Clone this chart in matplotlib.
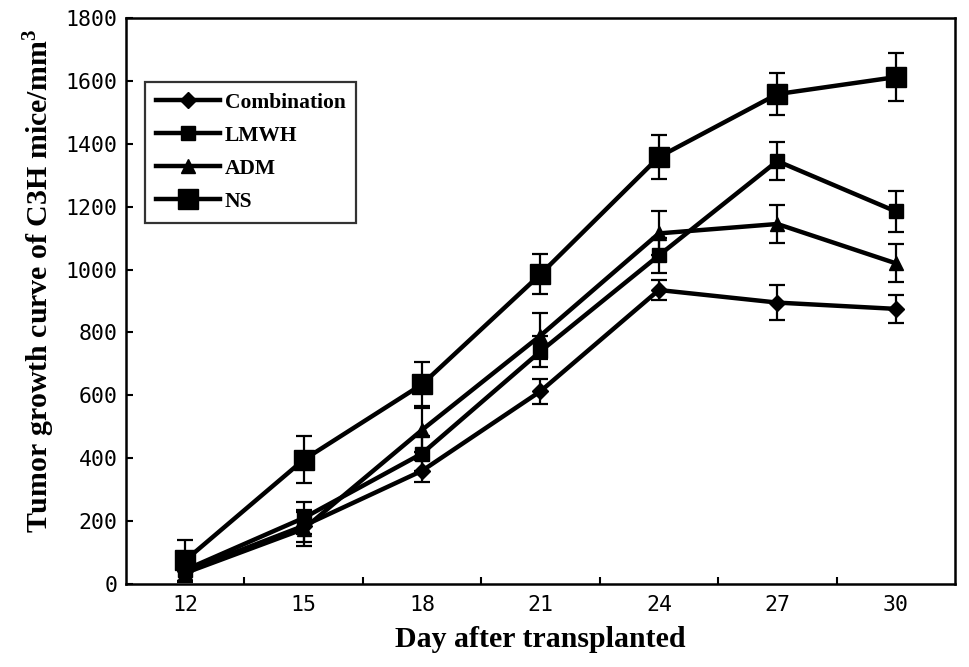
import numpy as np
import matplotlib
matplotlib.use('Agg')
import matplotlib.pyplot as plt

# Tumour volumes (mm^3)
days = [12, 15, 18, 21, 24, 27, 30]
combination = [40, 185, 360, 613, 935, 895, 875]
combination_err = [30, 50, 35, 40, 32, 55, 45]
lmwh = [45, 210, 415, 740, 1045, 1345, 1185]
lmwh_err = [35, 50, 55, 50, 55, 60, 65]
adm = [35, 175, 490, 790, 1115, 1145, 1020]
adm_err = [30, 55, 70, 73, 70, 60, 60]
ns = [75, 395, 635, 985, 1358, 1558, 1612]
ns_err = [65, 75, 70, 64, 70, 68, 76]

y_ticks = list(range(0, 1801, 200))

plt.rcParams['mathtext.fontset'] = 'custom'
plt.rcParams['mathtext.bf'] = 'Liberation Serif:bold'
plt.rcParams['mathtext.rm'] = 'Liberation Serif:bold'

fig = plt.figure(figsize=(9.69, 6.67), dpi=100)
ax = fig.add_axes([0.130, 0.1244, 0.8555, 0.8486])

pos = np.arange(len(days))
series = [
    ('Combination', combination, combination_err, 'D', 8),
    ('LMWH', lmwh, lmwh_err, 's', 9.5),
    ('ADM', adm, adm_err, '^', 10),
    ('NS', ns, ns_err, 's', 14),
]
for name, vals, errs, mk, ms in series:
    ax.errorbar(pos, vals, yerr=errs, fmt='none', ecolor='black',
                elinewidth=1.6, capsize=6, capthick=1.6)
    ax.plot(pos, vals, color='black', lw=3.2, marker=mk, markersize=ms,
            markerfacecolor='black', markeredgecolor='black', label=name)

ax.set_xlim(-0.5, len(days) - 0.5)
ax.set_ylim(0, 1800)
ax.set_xticks(pos)
ax.set_xticklabels([str(d) for d in days])
ax.set_xticks(pos[:-1] + 0.5, minor=True)
ax.set_yticks(y_ticks)
ax.tick_params(axis='x', which='major', length=0, pad=8)
ax.tick_params(axis='x', which='minor', direction='in', length=5, width=1.5)
ax.tick_params(axis='y', direction='in', length=5, width=1.5, pad=6)
for lab in ax.get_xticklabels() + ax.get_yticklabels():
    lab.set_family('DejaVu Sans Mono')
    lab.set_fontsize(15.5)
for sp in ax.spines.values():
    sp.set_linewidth(1.8)

ax.set_xlabel('Day after transplanted', family='Liberation Serif',
              fontweight='bold', fontsize=21.5, labelpad=8)
ax.set_ylabel(r'Tumor growth curve of C3H mice/mm$^{\mathbf{3}}$',
              family='Liberation Serif', fontweight='bold', fontsize=21.5)
ax.yaxis.set_label_coords(-0.083, 0.535)

leg = ax.legend(loc='upper left', bbox_to_anchor=(0.023, 0.887),
                prop={'family': 'Liberation Serif', 'weight': 'bold', 'size': 15.5},
                frameon=True, fancybox=False, edgecolor='black',
                handlelength=3.0, borderpad=0.5, labelspacing=0.6,
                handletextpad=0.2, borderaxespad=0)
leg.get_frame().set_linewidth(1.6)

fig.savefig('out.png', dpi=100)
